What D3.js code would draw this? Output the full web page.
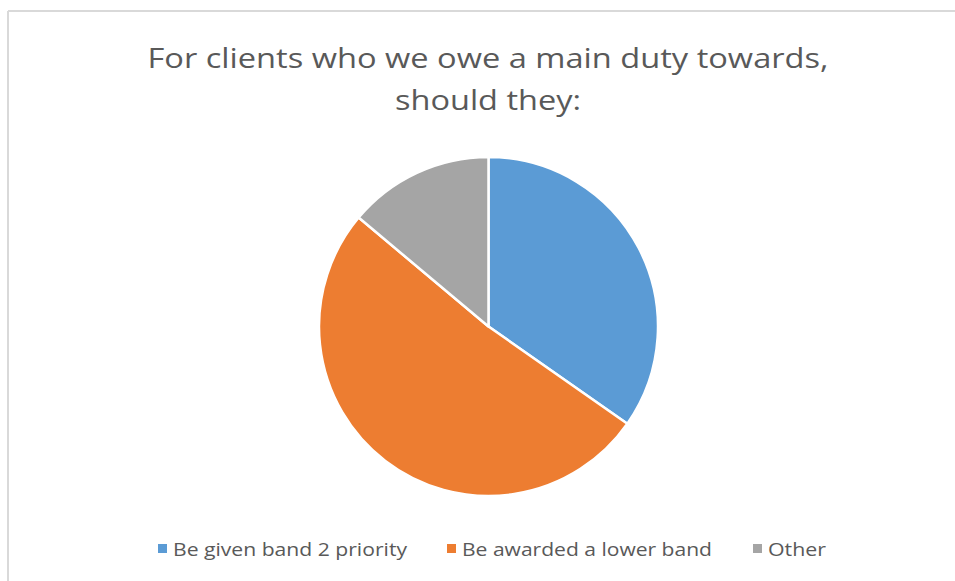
<!DOCTYPE html>
<html><head><meta charset="utf-8">
<script src="https://cdn.jsdelivr.net/npm/d3@7"></script>
<style>body{margin:0;background:#fff}svg{display:block}</style>
</head><body>
<script>
const categories = ["Be given band 2 priority", "Be awarded a lower band", "Other"];
const values = [25, 37, 10];
const colors = ["#5B9BD5", "#ED7D31", "#A5A5A5"];
const titleLines = ["For clients who we owe a main duty towards,", "should they:"];

const W = 955, H = 581;
const svg = d3.select("body").append("svg").attr("width", W).attr("height", H);
svg.append("rect").attr("width", W).attr("height", H).attr("fill", "#fff");
// chart area border (top and left visible)
svg.append("line").attr("x1", 8).attr("x2", W).attr("y1", 11).attr("y2", 11).attr("stroke", "#D9D9D9").attr("stroke-width", 2);
svg.append("line").attr("x1", 8).attr("x2", 8).attr("y1", 11).attr("y2", H).attr("stroke", "#D9D9D9").attr("stroke-width", 2);

const font = "Open Sans, Noto Sans, sans-serif";
const titleW = [681, 186];
svg.selectAll("text.title").data(titleLines).join("text")
  .attr("class", "title")
  .attr("x", 488).attr("y", (d, i) => 68 + i * 42)
  .attr("text-anchor", "middle")
  .attr("font-family", font).attr("font-size", 28)
  .attr("fill", "#595959")
  .attr("textLength", (d, i) => titleW[i]).attr("lengthAdjust", "spacingAndGlyphs")
  .text(d => d);

const cx = 488.5, cy = 326.5, r = 169.5;
const pie = d3.pie().sort(null).value(d => d);
const arc = d3.arc().innerRadius(0).outerRadius(r);
const g = svg.append("g").attr("transform", `translate(${cx},${cy})`);
g.selectAll("path").data(pie(values)).join("path")
  .attr("d", arc)
  .attr("fill", (d, i) => colors[i])
  .attr("stroke", "#fff").attr("stroke-width", 2.5).attr("stroke-linejoin", "round");

// legend
const legX = [158, 447, 753];
const legTextW = [234, 250, 58];
const lg = svg.append("g");
categories.forEach((c, i) => {
  lg.append("rect").attr("x", legX[i]).attr("y", 544).attr("width", 9).attr("height", 9).attr("fill", colors[i]);
  lg.append("text").attr("x", legX[i] + 15).attr("y", 556)
    .attr("font-family", font).attr("font-size", 18).attr("fill", "#595959")
    .attr("textLength", legTextW[i]).attr("lengthAdjust", "spacingAndGlyphs")
    .text(c);
});
</script>
</body></html>
